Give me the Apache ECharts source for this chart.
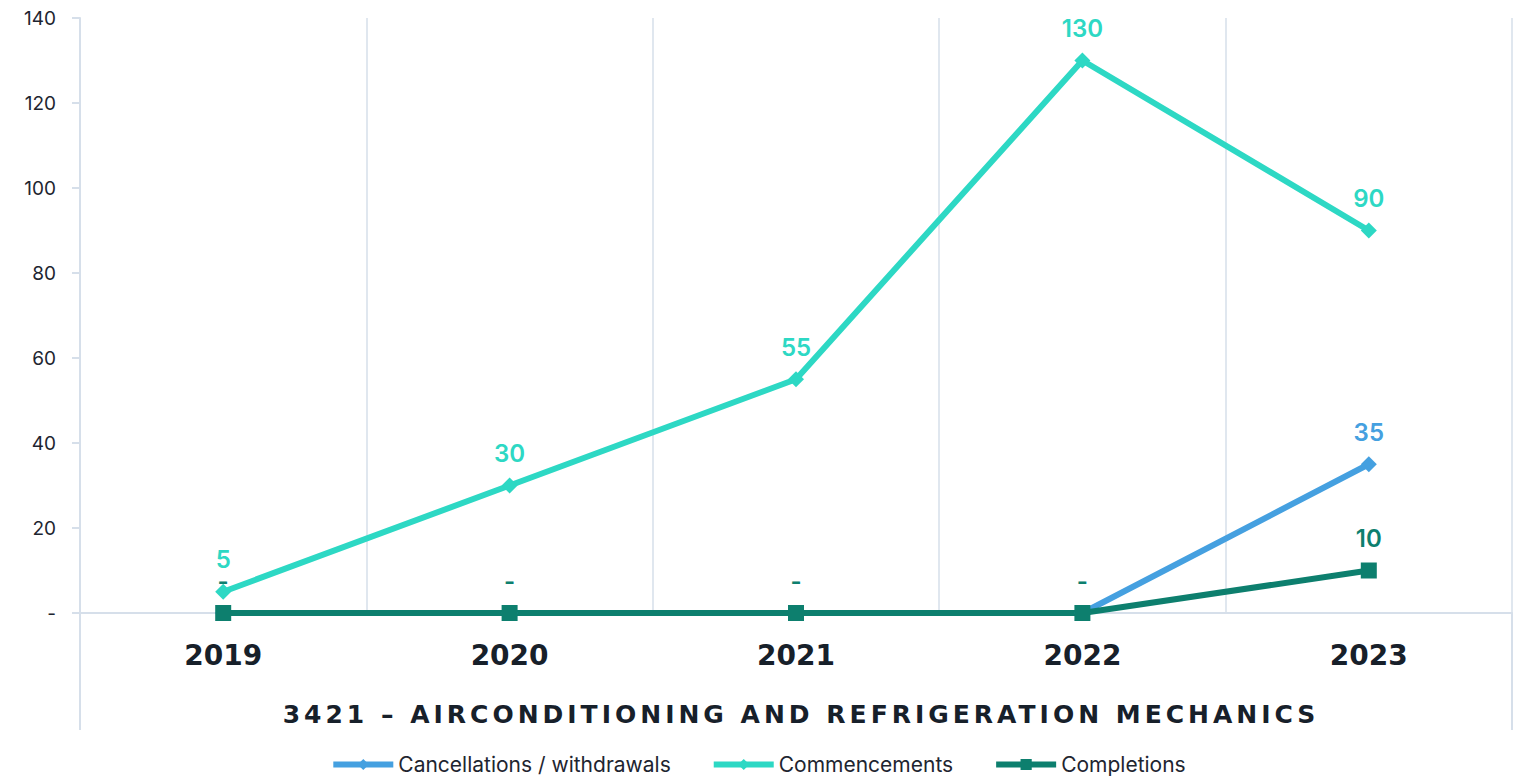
<!DOCTYPE html>
<html>
<head>
<meta charset="utf-8">
<script src="https://cdn.jsdelivr.net/npm/echarts@6/dist/echarts.min.js"></script>
<style>
html, body { margin: 0; padding: 0; background: #fff; }
#chart { width: 1516px; height: 778px; }
</style>
</head>
<body>
<div id="chart"></div>
<script>
var years = ['2019', '2020', '2021', '2022', '2023'];
var cancellations = [0, 0, 0, 0, 35];
var commencements = [5, 30, 55, 130, 90];
var completions = [0, 0, 0, 0, 10];
var chartTitle = '3421 – AIRCONDITIONING AND REFRIGERATION MECHANICS';

var c_cancel = '#45a0e0';
var c_comm = '#2dd8c4';
var c_comp = '#0d7f6e';
var c_axis = '#d6dfea';

function dash(p) {
	return p.value == 0 ? '-' : p.value;
}

function lineSeries(name, data, color, symbol, fmt) {
	return {
		name : name,
		type : 'line',
		data : data,
		symbol : symbol,
		symbolSize : 16,
		lineStyle : { width : 6, color : color },
		itemStyle : { color : color },
		label : {
			show : true,
			position : 'top',
			distance : 12,
			fontFamily : 'Inter',
			fontWeight : 600,
			fontSize : 24,
			color : color,
			formatter : fmt
		}
	};
}

var myChart = echarts.init(document.getElementById('chart'), null, { renderer : 'svg' });
var option = {
	animation : false,
	title : {
		text : chartTitle,
		left : 796,
		top : 697,
		textAlign : 'center',
		textStyle : {
			fontFamily : 'DejaVu Sans',
			fontWeight : 'bold',
			fontSize : 25,
			color : '#17202a'
		}
	},
	legend : {
		top : 749,
		left : 'center',
		itemWidth : 60,
		itemHeight : 14,
		itemGap : 40,
		lineStyle : { width : 6 },
		textStyle : {
			fontFamily : 'Inter',
			fontSize : 21,
			color : '#1e2530'
		},
		data : [ 'Cancellations / withdrawals', 'Commencements', 'Completions' ]
	},
	grid : {
		left : 80,
		right : 4,
		top : 18,
		bottom : 165
	},
	xAxis : {
		type : 'category',
		data : years,
		boundaryGap : true,
		axisLine : { lineStyle : { color : c_axis, width : 2 } },
		axisTick : { show : false },
		splitLine : { show : true, lineStyle : { color : c_axis, width : 1.5 } },
		axisLabel : {
			margin : 28,
			fontFamily : 'DejaVu Sans',
			fontWeight : 'bold',
			fontSize : 28,
			color : '#17202a'
		}
	},
	yAxis : {
		type : 'value',
		min : 0,
		max : 140,
		interval : 20,
		splitLine : { show : false },
		axisLine : { show : true, lineStyle : { color : c_axis, width : 2 } },
		axisTick : { show : true, length : 8, lineStyle : { color : c_axis, width : 2 } },
		axisLabel : {
			margin : 24,
			fontFamily : 'Inter',
			fontSize : 19,
			color : '#1e2530',
			formatter : function(v) { return v == 0 ? '-' : v; }
		}
	},
	graphic : [ {
		type : 'line',
		shape : { x1 : 80, y1 : 613, x2 : 80, y2 : 730 },
		style : { stroke : c_axis, lineWidth : 2 }
	}, {
		type : 'line',
		shape : { x1 : 1512, y1 : 613, x2 : 1512, y2 : 730 },
		style : { stroke : c_axis, lineWidth : 2 }
	} ],
	series : [
		lineSeries('Cancellations / withdrawals', cancellations, c_cancel, 'diamond',
			function(p) { return p.value == 0 ? '' : p.value; }),
		lineSeries('Commencements', commencements, c_comm, 'diamond', dash),
		lineSeries('Completions', completions, c_comp, 'rect', dash)
	]
};
myChart.setOption(option);

// spread the title letters a little, like the original
var texts = document.querySelectorAll('#chart text');
for (var i = 0; i < texts.length; i++) {
	if (texts[i].textContent === chartTitle) {
		texts[i].style.letterSpacing = '4px';
	}
}
</script>
</body>
</html>
